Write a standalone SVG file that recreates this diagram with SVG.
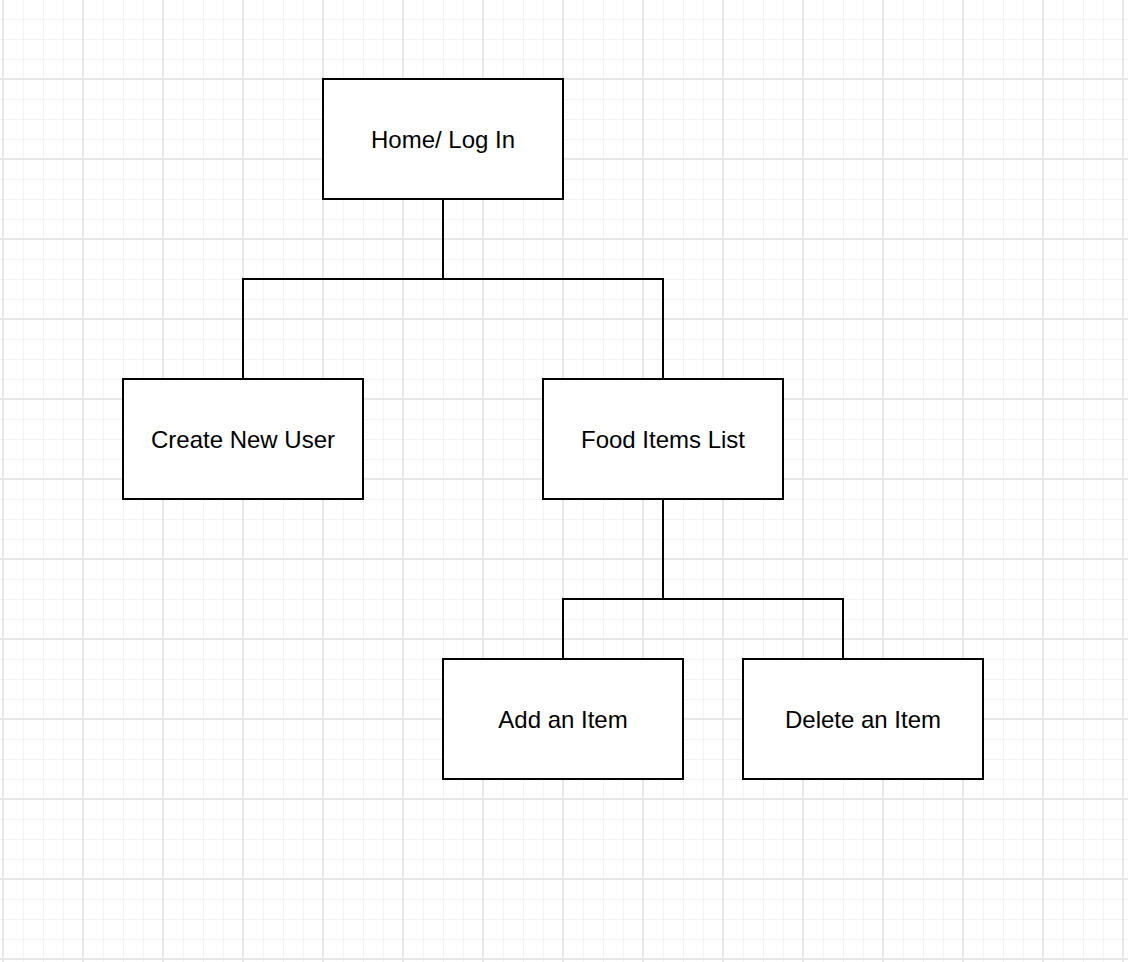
<svg xmlns="http://www.w3.org/2000/svg" width="1128" height="962" viewBox="0 0 1128 962">
  <defs>
    <pattern id="minor" x="3" y="-1" width="20" height="20" patternUnits="userSpaceOnUse">
      <path d="M0.5 0 V20 M0 0.5 H20" fill="none" stroke="#f3f3f3" stroke-width="1"/>
    </pattern>
    <pattern id="major" x="2" y="-2" width="80" height="80" patternUnits="userSpaceOnUse">
      <path d="M1 0 V80 M0 1 H80" fill="none" stroke="#e8e8e8" stroke-width="2"/>
    </pattern>
  </defs>
  <style>
    .box { fill: #ffffff; stroke: #000000; stroke-width: 2; }
    .lbl { font-family: "Liberation Sans", Arial, sans-serif; font-size: 24px; fill: #000000; text-anchor: middle; }
    .conn { fill: none; stroke: #000000; stroke-width: 2; }
  </style>
  <rect x="0" y="0" width="1128" height="962" fill="#ffffff"/>
  <rect x="0" y="0" width="1128" height="962" fill="url(#minor)"/>
  <rect x="0" y="0" width="1128" height="962" fill="url(#major)"/>

  <g id="connectors">
    <path class="conn" d="M443 199 V279 H243 V379"/>
    <path class="conn" d="M443 279 H663 V379"/>
    <path class="conn" d="M663 499 V599 H563 V659"/>
    <path class="conn" d="M663 599 H843 V659"/>
  </g>

  <g id="home">
    <rect class="box" x="323" y="79" width="240" height="120"/>
    <text class="lbl" x="443" y="147.5">Home/ Log In</text>
  </g>
  <g id="create-user">
    <rect class="box" x="123" y="379" width="240" height="120"/>
    <text class="lbl" x="243" y="447.5">Create New User</text>
  </g>
  <g id="food-list">
    <rect class="box" x="543" y="379" width="240" height="120"/>
    <text class="lbl" x="663" y="447.5">Food Items List</text>
  </g>
  <g id="add-item">
    <rect class="box" x="443" y="659" width="240" height="120"/>
    <text class="lbl" x="563" y="727.5">Add an Item</text>
  </g>
  <g id="delete-item">
    <rect class="box" x="743" y="659" width="240" height="120"/>
    <text class="lbl" x="863" y="727.5">Delete an Item</text>
  </g>
</svg>
